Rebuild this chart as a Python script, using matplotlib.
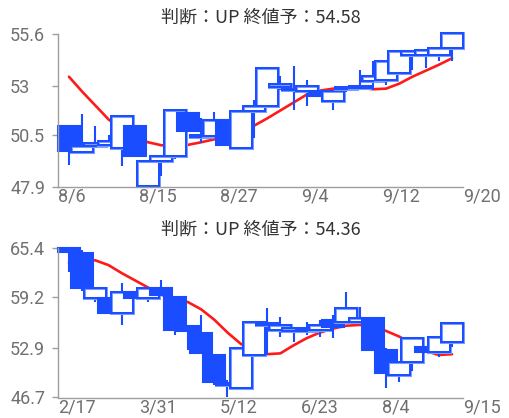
import matplotlib
matplotlib.use("Agg")
import matplotlib.pyplot as plt
from matplotlib.patches import Rectangle

# ---------------- data ----------------
top_title = "判断：UP 終値予：54.58"
top_xlabels = ["8/6", "8/15", "8/27", "9/4", "9/12", "9/20"]
top_yticks = [47.9, 50.5, 53, 55.6]
top_open = [50.97, 49.66, 49.96, 50.00, 49.86, 50.97, 47.95, 49.21, 49.46, 51.62,
            50.40, 50.47, 51.27, 49.86, 51.73, 51.98, 52.95, 52.78, 52.73, 52.73,
            52.23, 52.83, 52.88, 53.24, 53.29, 53.64, 54.54, 54.54, 54.54, 54.90]
top_close = [49.71, 49.96, 50.11, 50.20, 51.47, 49.46, 49.21, 49.46, 51.78, 50.72,
             50.52, 51.27, 50.01, 51.73, 51.98, 53.89, 53.10, 52.83, 52.98, 52.48,
             52.73, 52.93, 52.98, 53.49, 54.24, 54.74, 54.74, 54.79, 54.90, 55.65]
top_high = [50.97, 51.57, 50.97, 50.50, 51.47, 50.97, 49.21, 49.46, 51.78, 51.62,
            51.37, 51.67, 51.27, 51.73, 52.28, 53.89, 53.49, 53.99, 53.29, 52.73,
            52.73, 53.00, 53.79, 54.24, 54.24, 54.74, 54.74, 54.79, 54.90, 55.65]
top_low = [49.00, 49.66, 49.96, 49.90, 48.96, 49.46, 47.95, 48.45, 49.30, 50.72,
           50.11, 50.47, 50.01, 49.86, 50.37, 51.98, 52.78, 51.78, 51.98, 52.48,
           51.78, 52.70, 52.78, 52.78, 53.03, 53.64, 53.79, 53.89, 54.24, 54.24]
top_trend = [53.45, 52.70, 52.00, 51.30, 50.80, 50.40, 50.15, 50.00, 49.98, 50.02,
             50.15, 50.30, 50.50, 50.75, 50.98, 51.35, 51.75, 52.15, 52.55, 52.75,
             52.85, 52.90, 52.90, 52.82, 52.85, 53.10, 53.45, 53.75, 54.05, 54.38]

bot_title = "判断：UP 終値予：54.36"
bot_xlabels = ["2/17", "3/31", "5/12", "6/23", "8/4", "9/15"]
bot_yticks = [46.7, 52.9, 59.2, 65.4]
bot_open = [65.40, 64.70, 59.10, 59.10, 57.20, 59.85, 59.10, 60.35, 59.20, 55.60,
            54.70, 52.00, 48.30, 47.90, 52.00, 55.70, 55.10, 55.00, 55.00, 55.10,
            56.40, 56.10, 56.10, 56.60, 52.60, 49.50, 51.10, 53.00, 52.40, 53.60]
bot_close = [64.80, 60.35, 60.35, 57.20, 59.85, 59.10, 60.35, 59.50, 55.10, 55.00,
             52.20, 48.60, 48.45, 52.90, 56.10, 56.00, 55.70, 55.40, 55.30, 55.70,
             55.50, 57.90, 56.60, 52.60, 49.75, 51.10, 54.10, 52.40, 54.20, 56.00]
bot_high = [65.40, 65.10, 60.35, 59.10, 61.00, 59.85, 60.35, 61.35, 59.20, 55.60,
            57.00, 52.00, 48.90, 52.90, 56.10, 57.90, 56.70, 55.40, 56.10, 56.40,
            57.00, 59.85, 58.00, 56.60, 52.90, 51.10, 54.10, 53.00, 54.20, 56.00]
bot_low = [62.30, 60.00, 58.60, 57.20, 55.70, 59.10, 58.60, 59.50, 54.50, 52.60,
           52.20, 48.30, 46.70, 47.90, 52.00, 52.00, 54.30, 53.60, 54.50, 54.30,
           54.10, 56.10, 56.10, 52.60, 47.90, 48.60, 50.00, 52.40, 51.75, 53.00]
bot_trend = [63.50, 63.80, 63.80, 63.20, 62.20, 61.30, 60.40, 59.50, 59.00, 58.60,
             57.70, 56.40, 54.80, 53.40, 52.40, 52.10, 52.20, 53.20, 54.10, 54.80,
             55.30, 55.65, 55.75, 55.55, 55.00, 54.30, 53.40, 52.50, 52.00, 52.10]

# ---------------- style ----------------
BLUE = "#1a4dff"
LIGHT_BLUE = "#7a9cff"
RED = "#ff1a1a"
GRID = "#9e9e9e"
TICK_COL = "#707070"
TITLE_COL = "#333333"
FIG_W, FIG_H = 510, 418
DPI = 100

fig = plt.figure(figsize=(FIG_W / DPI, FIG_H / DPI), dpi=DPI)

def px_rect(left, top, right, bottom):
    return [left / FIG_W, 1 - bottom / FIG_H, (right - left) / FIG_W, (bottom - top) / FIG_H]

def draw_panel(rect, title, title_y, xlabels, yticks, o, c, h, l, trend):
    ax = fig.add_axes(rect)
    n = len(o)
    x0 = -0.83
    x1 = x0 + 30.66
    ax.set_xlim(x0, x1)
    ax.set_ylim(yticks[0], yticks[-1])
    xs = list(range(n))
    ax.plot(xs, trend, color=RED, lw=1.9, zorder=1, solid_capstyle="round")
    w = 1.67
    for i in range(n):
        z = 2 + i * 0.01
        ax.plot([i, i], [l[i], h[i]], color=BLUE, lw=1.5, zorder=z, clip_on=False,
                solid_capstyle="butt")
        lo, hi = min(o[i], c[i]), max(o[i], c[i])
        filled = c[i] < o[i]
        hgt = max(hi - lo, 0.04)
        if filled:
            r = Rectangle((i - w / 2, lo), w, hgt, facecolor=BLUE,
                          edgecolor=BLUE, lw=1.5, zorder=z + 0.001, clip_on=False)
            ax.add_patch(r)
        else:
            r = Rectangle((i - w / 2, lo), w, hgt, facecolor="white",
                          edgecolor=LIGHT_BLUE, lw=2.2, zorder=z + 0.001, clip_on=False)
            ax.add_patch(r)
            r2 = Rectangle((i - w / 2, lo), w, hgt, facecolor="none",
                           edgecolor=BLUE, lw=1.4, zorder=z + 0.002, clip_on=False)
            ax.add_patch(r2)
    for s in ["top", "right"]:
        ax.spines[s].set_visible(False)
    for s in ["left", "bottom"]:
        ax.spines[s].set_color(GRID)
        ax.spines[s].set_linewidth(1.0)
    ax.set_yticks(yticks)
    ax.set_yticklabels([f"{v:g}" for v in yticks])
    ax.tick_params(axis="y", length=4, width=1, color=GRID, pad=30.5,
                   labelsize=13, labelcolor=TICK_COL)
    for lbl in ax.get_yticklabels():
        lbl.set_horizontalalignment("left")
        lbl.set_fontfamily("Roboto")
    xt = [x0 + k * (x1 - x0) / 5 for k in range(6)]
    ax.set_xticks(xt)
    ax.set_xticklabels(xlabels)
    ax.tick_params(axis="x", length=0, pad=0.5, labelsize=13, labelcolor=TICK_COL)
    for lbl in ax.get_xticklabels():
        lbl.set_horizontalalignment("left")
        lbl.set_fontfamily("Roboto")
    fig.text((rect[0] + rect[2] / 2), 1 - title_y / FIG_H, title,
             ha="center", va="center", fontsize=13, color=TITLE_COL,
             family=["Noto Sans CJK JP", "DejaVu Sans"])
    return ax

draw_panel(px_rect(58, 34, 463, 187), top_title, 18, top_xlabels, top_yticks,
           top_open, top_close, top_high, top_low, top_trend)
draw_panel(px_rect(58, 247.5, 463, 397.5), bot_title, 230, bot_xlabels, bot_yticks,
           bot_open, bot_close, bot_high, bot_low, bot_trend)

fig.savefig("out.png", dpi=DPI)
